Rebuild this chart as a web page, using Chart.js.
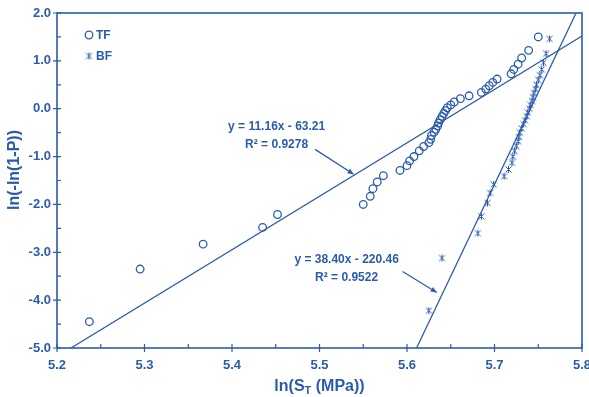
<!DOCTYPE html>
<html><head><meta charset="utf-8">
<script src="https://cdn.jsdelivr.net/npm/chart.js@4.4.0/dist/chart.umd.min.js"></script>
<style>html,body{margin:0;padding:0;background:#fff;overflow:hidden}#wrap{width:589px;height:397px}</style>
</head><body><div id="wrap"><canvas id="c" width="589" height="397" style="width:589px;height:397px"></canvas></div>
<script>
// ---- data ----
const seriesNames = ['TF', 'BF'];
const tfX = [5.237,5.295,5.367,5.435,5.452,5.550,5.558,5.561,5.566,5.573,5.592,5.600,5.603,5.608,5.614,5.619,5.625,5.627,5.628,5.631,5.633,5.635,5.636,5.638,5.640,5.642,5.644,5.646,5.650,5.654,5.661,5.671,5.685,5.690,5.694,5.698,5.703,5.719,5.722,5.727,5.731,5.739,5.750];
const tfY = [-4.45,-3.35,-2.83,-2.48,-2.21,-2.00,-1.83,-1.67,-1.53,-1.40,-1.29,-1.19,-1.09,-1.00,-0.88,-0.79,-0.71,-0.64,-0.56,-0.49,-0.43,-0.36,-0.30,-0.23,-0.16,-0.10,-0.04,0.02,0.08,0.14,0.21,0.27,0.34,0.41,0.48,0.55,0.62,0.73,0.82,0.93,1.06,1.22,1.50];
const bfX = [5.625,5.640,5.681,5.685,5.692,5.695,5.699,5.711,5.716,5.720,5.721,5.723,5.725,5.727,5.728,5.729,5.731,5.733,5.735,5.737,5.738,5.740,5.741,5.743,5.744,5.745,5.747,5.748,5.750,5.752,5.754,5.756,5.759,5.763];
const bfY = [-4.22,-3.12,-2.60,-2.25,-1.97,-1.76,-1.58,-1.41,-1.27,-1.13,-1.00,-0.88,-0.78,-0.68,-0.59,-0.50,-0.41,-0.32,-0.24,-0.16,-0.08,0.00,0.08,0.16,0.24,0.33,0.41,0.50,0.60,0.70,0.82,0.96,1.15,1.46];
const fitSlope = [11.16, 38.40];
const fitIntercept = [-63.21, -220.46];
const fitEqLabels = ['y = 11.16x - 63.21', 'y = 38.40x - 220.46'];
const fitR2Labels = ['R² = 0.9278', 'R² = 0.9522'];
const xTicks = [5.2, 5.3, 5.4, 5.5, 5.6, 5.7, 5.8];
const yTicks = [2, 1, 0, -1, -2, -3, -4, -5];
const xTitle = ['ln(S', 'T', ' (MPa))'];
const yTitle = 'ln(-ln(1-P))';

// ---- styling / layout ----
const BLUE = '#2b5cab';
const FONT = '"Liberation Sans", Arial, sans-serif';
const annTextPos = [[5.451, -0.38], [5.531, -3.15]];
const annArrow = [[[5.495, -0.85], [5.539, -1.37]], [[5.595, -3.40], [5.634, -3.84]]];

function fitPoints(m, b) {
  const xmin = xTicks[0], xmax = xTicks[xTicks.length - 1];
  const ymin = Math.min(...yTicks), ymax = Math.max(...yTicks);
  let xa = xmin, xb = xmax;
  const xAtMin = (ymin - b) / m, xAtMax = (ymax - b) / m;
  xa = Math.max(xa, Math.min(xAtMin, xAtMax));
  xb = Math.min(xb, Math.max(xAtMin, xAtMax));
  return [{x: xa, y: m * xa + b}, {x: xb, y: m * xb + b}];
}
function starMarker() {
  const c = document.createElement('canvas');
  c.width = 9; c.height = 9;
  const g = c.getContext('2d');
  g.strokeStyle = BLUE; g.lineWidth = 1.0;
  g.beginPath();
  g.moveTo(1.5, 1.5); g.lineTo(7.5, 7.5);
  g.moveTo(7.5, 1.5); g.lineTo(1.5, 7.5);
  g.moveTo(4.5, 1); g.lineTo(4.5, 8);
  g.stroke();
  return c;
}
const star = starMarker();

const decor = {
  id: 'decor',
  afterDatasetsDraw(chart) {
    const {ctx, chartArea: a, scales: {x, y}} = chart;
    ctx.save();
    ctx.strokeStyle = BLUE; ctx.fillStyle = BLUE;
    ctx.lineWidth = 1.6;
    ctx.strokeRect(a.left, a.top, a.right - a.left, a.bottom - a.top);
    ctx.lineWidth = 1.2;
    ctx.beginPath();
    xTicks.forEach((v, i) => {
      const px = x.getPixelForValue(v);
      ctx.moveTo(px, a.bottom - 4); ctx.lineTo(px, a.bottom + 4);
      if (i < xTicks.length - 1) {
        const pm = x.getPixelForValue((v + xTicks[i + 1]) / 2);
        ctx.moveTo(pm, a.bottom - 4); ctx.lineTo(pm, a.bottom);
      }
    });
    yTicks.forEach((v, i) => {
      const py = y.getPixelForValue(v);
      ctx.moveTo(a.left - 4, py); ctx.lineTo(a.left + 4, py);
      if (i < yTicks.length - 1) {
        const pm = y.getPixelForValue((v + yTicks[i + 1]) / 2);
        ctx.moveTo(a.left, pm); ctx.lineTo(a.left + 4, pm);
      }
    });
    ctx.stroke();

    // legend
    ctx.font = 'bold 12px ' + FONT;
    ctx.textBaseline = 'middle'; ctx.textAlign = 'left';
    const lx = a.left + 32, ly = [a.top + 22, a.top + 43];
    ctx.lineWidth = 1.3;
    ctx.beginPath(); ctx.arc(lx, ly[0], 3.8, 0, Math.PI * 2); ctx.stroke();
    ctx.drawImage(star, lx - 4.5, ly[1] - 4.5);
    ctx.fillText(seriesNames[0], lx + 7, ly[0] + 0.5);
    ctx.fillText(seriesNames[1], lx + 7, ly[1] + 0.5);

    // annotations
    ctx.textAlign = 'center';
    for (let k = 0; k < 2; k++) {
      const tx = x.getPixelForValue(annTextPos[k][0]);
      const ty = y.getPixelForValue(annTextPos[k][1]);
      ctx.fillText(fitEqLabels[k], tx, ty);
      ctx.fillText(fitR2Labels[k], tx, ty + 18);
      const [p0, p1] = annArrow[k];
      const x0 = x.getPixelForValue(p0[0]), y0 = y.getPixelForValue(p0[1]);
      const x1 = x.getPixelForValue(p1[0]), y1 = y.getPixelForValue(p1[1]);
      ctx.lineWidth = 1.3;
      ctx.beginPath(); ctx.moveTo(x0, y0); ctx.lineTo(x1, y1); ctx.stroke();
      const ang = Math.atan2(y1 - y0, x1 - x0), L = 6, W = 2.6;
      ctx.beginPath();
      ctx.moveTo(x1, y1);
      ctx.lineTo(x1 - L * Math.cos(ang) + W * Math.sin(ang), y1 - L * Math.sin(ang) - W * Math.cos(ang));
      ctx.lineTo(x1 - L * Math.cos(ang) - W * Math.sin(ang), y1 - L * Math.sin(ang) + W * Math.cos(ang));
      ctx.closePath(); ctx.fill();
    }

    // x title with subscript
    const big = 'bold 16px ' + FONT, small = 'bold 11px ' + FONT;
    ctx.font = big; const w1 = ctx.measureText(xTitle[0]).width, w3 = ctx.measureText(xTitle[2]).width;
    ctx.font = small; const w2 = ctx.measureText(xTitle[1]).width;
    let sx = (a.left + a.right) / 2 - (w1 + w2 + w3) / 2;
    const by = 391;
    ctx.textAlign = 'left'; ctx.textBaseline = 'alphabetic';
    ctx.font = big; ctx.fillText(xTitle[0], sx, by); sx += w1;
    ctx.font = small; ctx.fillText(xTitle[1], sx, by + 3); sx += w2;
    ctx.font = big; ctx.fillText(xTitle[2], sx, by);

    // y title
    ctx.save();
    ctx.translate(15, 170);
    ctx.rotate(-Math.PI / 2);
    ctx.textAlign = 'center'; ctx.textBaseline = 'middle';
    ctx.font = big; ctx.fillText(yTitle, 0, 0);
    ctx.restore();
    ctx.restore();
  }
};

const tickFont = {family: FONT, size: 13, weight: 'bold'};
new Chart(document.getElementById('c'), {
  type: 'scatter',
  data: {
    datasets: [
      {label: seriesNames[0], data: tfX.map((v, i) => ({x: v, y: tfY[i]})), pointStyle: 'circle', pointRadius: 3.8,
       borderColor: BLUE, backgroundColor: 'rgba(0,0,0,0)', borderWidth: 1.3, showLine: false},
      {label: seriesNames[1], data: bfX.map((v, i) => ({x: v, y: bfY[i]})), pointStyle: star, pointRadius: 4.5,
       borderColor: BLUE, backgroundColor: BLUE, showLine: false},
      {label: 'fit TF', data: fitPoints(fitSlope[0], fitIntercept[0]), showLine: true, borderColor: BLUE, borderWidth: 1.3, pointRadius: 0, fill: false},
      {label: 'fit BF', data: fitPoints(fitSlope[1], fitIntercept[1]), showLine: true, borderColor: BLUE, borderWidth: 1.3, pointRadius: 0, fill: false}
    ]
  },
  options: {
    responsive: false, devicePixelRatio: 1, animation: false,
    layout: {padding: {top: 13, right: 7, left: 0, bottom: 0}},
    plugins: {legend: {display: false}, tooltip: {enabled: false}},
    scales: {
      x: {type: 'linear', min: xTicks[0], max: xTicks[xTicks.length - 1],
          afterBuildTicks: s => { s.ticks = xTicks.map(v => ({value: v})); },
          afterFit: s => { s.height = 49; s.paddingLeft = 0; s.paddingRight = 0; },
          grid: {display: false, drawTicks: false}, border: {display: false},
          ticks: {color: BLUE, font: tickFont, padding: 10, maxRotation: 0, autoSkip: false, callback: v => Number(v).toFixed(1)}},
      y: {type: 'linear', min: Math.min(...yTicks), max: Math.max(...yTicks),
          afterBuildTicks: s => { s.ticks = yTicks.map(v => ({value: v})); },
          afterFit: s => { s.width = 57; s.paddingTop = 0; s.paddingBottom = 0; },
          grid: {display: false, drawTicks: false}, border: {display: false},
          ticks: {color: BLUE, font: tickFont, padding: 6, autoSkip: false, callback: v => Number(v).toFixed(1)}}
    }
  },
  plugins: [decor]
});
</script></body></html>
